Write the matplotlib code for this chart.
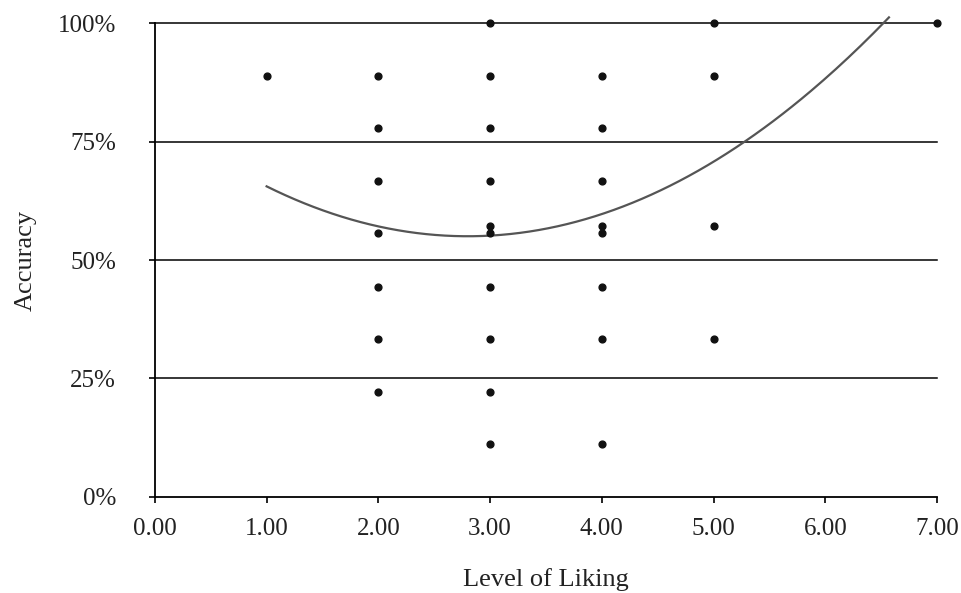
import matplotlib.pyplot as plt
import numpy as np

# liking level and accuracy (%) for each respondent
liking = [1,
          2, 2, 2, 2, 2, 2, 2,
          3, 3, 3, 3, 3, 3, 3, 3, 3, 3,
          4, 4, 4, 4, 4, 4, 4, 4,
          5, 5, 5, 5,
          7]
accuracy = [88.9,
            88.9, 77.8, 66.7, 55.6, 44.4, 33.3, 22.2,
            100, 88.9, 77.8, 66.7, 57.1, 55.6, 44.4, 33.3, 22.2, 11.1,
            88.9, 77.8, 66.7, 57.1, 55.6, 44.4, 33.3, 11.1,
            100, 88.9, 57.1, 33.3,
            100]

# polynomial trend line (order 2): a*x^2 + b*x + c
trend_coef = [3.25, -18.2, 80.5]
trend_range = [1.0, 6.57]

plt.rcParams['font.family'] = ['Liberation Serif', 'DejaVu Serif']

fig = plt.figure(figsize=(9.62, 5.93), dpi=100)
ax = fig.add_axes([0.161, 0.162, 0.813, 0.799])

for yv in [25, 50, 75, 100]:
    ax.axhline(yv, color='black', lw=1.1, zorder=1, clip_on=False)

ax.scatter(liking, accuracy, s=24, color='#111111', zorder=3, clip_on=False)

tx = np.linspace(trend_range[0], trend_range[1], 200)
ax.plot(tx, np.polyval(trend_coef, tx), color='#555555', lw=1.6, zorder=2, clip_on=False)

ax.set_xlim(0, 7)
ax.set_ylim(0, 100)
ax.set_xticks(np.arange(0, 8, 1))
ax.set_xticklabels(['%.2f' % v for v in range(8)])
ax.set_yticks([0, 25, 50, 75, 100])
ax.set_yticklabels(['0%', '25%', '50%', '75%', '100%'])

for s in ['top', 'right']:
    ax.spines[s].set_visible(False)
for s in ['left', 'bottom']:
    ax.spines[s].set_linewidth(1.3)

ax.tick_params(axis='both', direction='out', length=4, width=1.2, labelsize=18, labelcolor='#222222')
ax.tick_params(axis='y', pad=24)
ax.tick_params(axis='x', pad=11)

ax.set_xlabel('Level of Liking', fontsize=19, color='#222222', labelpad=20)
ax.set_ylabel('Accuracy', fontsize=19, color='#222222', labelpad=15)

fig.savefig('out.png', dpi=100)
